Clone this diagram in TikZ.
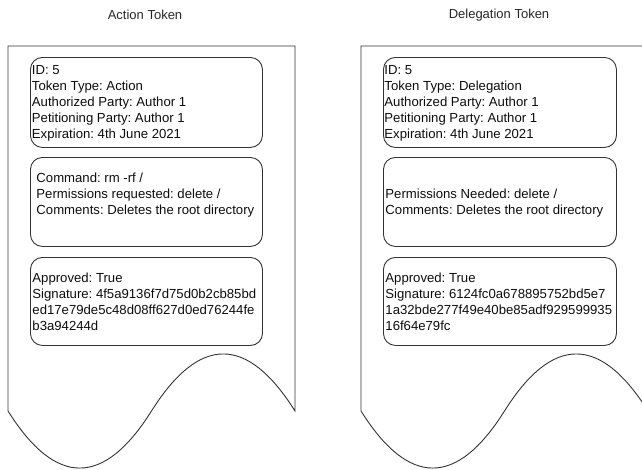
\documentclass[tikz,border=0pt]{standalone}
\usepackage{fontspec}
\setmainfont{Liberation Sans}
\begin{document}
\begin{tikzpicture}[x=1pt,y=-1pt,
  line width=0.9pt,
  ink/.style={draw=black!80},
  field/.style={ink, rounded corners=12pt, inner sep=0pt, anchor=north west,
    minimum width=232pt},
  txt/.style={inner sep=0pt, anchor=west, align=left, text=black!95,
    font=\fontsize{13.15}{16}\selectfont\frenchspacing},
  title/.style={inner sep=0pt, text=black!85, font=\fontsize{13}{16}\selectfont\frenchspacing},
]
\useasboundingbox (0,0) rectangle (642,469);
\clip (0,0) rectangle (642,469);

% token outlines: document shape with a wavy bottom edge
\foreach \dx in {0,353}{
  \begin{scope}[xshift=\dx pt]
    \draw[ink] (8,411) -- (8,46) -- (295,46) -- (295,411)
      .. controls (247.17,334.93) and (199.33,334.93) .. (151.5,411)
      .. controls (103.67,487.07) and (55.83,487.07) .. (8,411);
  \end{scope}
}

% titles
\node[title] (atitle) at (145,15) {Action Token};
\node[title] (dtitle) at (499,15) {Delegation Token};

% Action token fields
\node[field, minimum height=90pt] (aid)  at (30,57)  {};
\node[field, minimum height=89pt] (acmd) at (30,157) {};
\node[field, minimum height=88pt] (asig) at (30,257) {};

\node[txt] (aidtxt) at (31.5,103) {ID: 5\\Token Type: Action\\Authorized Party: Author 1\\Petitioning Party: Author 1\\Expiration: 4th June 2021};
\node[txt] (acmdtxt) at (36,195.5) {Command: rm -rf /\\Permissions requested: delete /\\Comments: Deletes the root directory};
\node[txt] (asigtxt) at (32,302) {Approved: True\\Signature: 4f5a9136f7d75d0b2cb85bd\\ed17e79de5c48d08ff627d0ed76244fe\\b3a94244d};

% Delegation token fields
\node[field, minimum width=233pt, minimum height=90pt] (did)  at (383,57)  {};
\node[field, minimum width=233pt, minimum height=89pt] (dcmd) at (383,157) {};
\node[field, minimum width=233pt, minimum height=88pt] (dsig) at (383,257) {};

\node[txt] (didtxt) at (384,103) {ID: 5\\Token Type: Delegation\\Authorized Party: Author 1\\Petitioning Party: Author 1\\Expiration: 4th June 2021};
\node[txt] (dcmdtxt) at (385,203) {Permissions Needed: delete /\\Comments: Deletes the root directory};
\node[txt] (dsigtxt) at (385,302) {Approved: True\\Signature: 6124fc0a678895752bd5e7\\1a32bde277f49e40be85adf929599935\\16f64e79fc};
\end{tikzpicture}
\end{document}
